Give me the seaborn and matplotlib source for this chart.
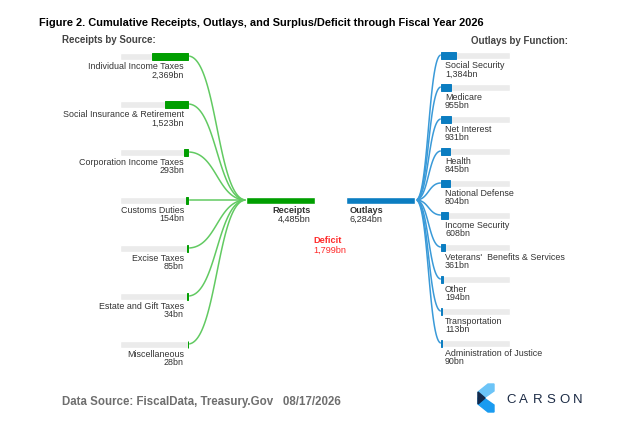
import matplotlib
matplotlib.use('Agg')
import matplotlib.pyplot as plt
from matplotlib.patches import Polygon
import numpy as np
import seaborn as sns

# Dados - Data (bn USD)
receipt_names = ['Individual Income Taxes', 'Social Insurance & Retirement', 'Corporation Income Taxes',
                 'Customs Duties', 'Excise Taxes', 'Estate and Gift Taxes', 'Miscellaneous']
receipt_values = [2369, 1523, 293, 154, 85, 34, 28]

outlay_names = ['Social Security', 'Medicare', 'Net Interest', 'Health', 'National Defense',
                'Income Security', "Veterans'  Benefits & Services", 'Other', 'Transportation',
                'Administration of Justice']
outlay_values = [1384, 955, 931, 845, 804, 608, 361, 194, 113, 90]

total_receipts = 4485
total_outlays = 6284
deficit = 1799

sns.set_theme(style='white')
plt.rcParams['font.family'] = ['Liberation Sans', 'DejaVu Sans']

GREEN = '#009e00'
GREEN_LINE = '#62ca62'
BLUE = '#0b7dc1'
BLUE_LINE = '#3a9ad8'
GRAY_BG = '#ebebeb'
TXT = '#333333'

fig = plt.figure(figsize=(6.24, 4.31), dpi=100)
ax = fig.add_axes([0, 0, 1, 1])
ax.set_xlim(0, 624)
ax.set_ylim(431, 0)
ax.axis('off')


def link(x0, y0, x1, y1, color):
    # curva bezier horizontal - horizontal bezier link
    t = np.linspace(0, 1, 60)
    xm = (x0 + x1) / 2
    xs = (1 - t) ** 3 * x0 + 3 * t * (1 - t) ** 2 * xm + 3 * t ** 2 * (1 - t) * xm + t ** 3 * x1
    ys = (1 - t) ** 3 * y0 + 3 * t * (1 - t) ** 2 * y0 + 3 * t ** 2 * (1 - t) * y1 + t ** 3 * y1
    ax.plot(xs, ys, color=color, lw=1.1, solid_capstyle='butt', zorder=1)


bar_h = 7
full_w = 68

# Receitas - Receipts (left)
left_end = 188
left_y = 57 + 48 * np.arange(len(receipt_values))
left_w = np.array(receipt_values) / total_receipts * full_w
ax.barh(left_y, full_w, left=left_end - full_w, height=bar_h, color=GRAY_BG, zorder=2)
ax.barh(left_y, left_w, left=left_end - left_w, height=bar_h, color=GREEN,
        edgecolor=GREEN, linewidth=0.7, zorder=3)
for y, name, v in zip(left_y, receipt_names, receipt_values):
    ax.text(184, y + 9.5, name, ha='right', va='center', fontsize=6.4, color=TXT)
    ax.text(184, y + 18, f'{v:,}bn', ha='right', va='center', fontsize=6.4, color=TXT)
    link(left_end, y, 246, 201, GREEN_LINE)

# Barras centrais - Central bars
ax.barh([201], [69], left=246, height=bar_h, color=GREEN, zorder=3)
ax.barh([201], [69], left=346, height=bar_h, color=BLUE, zorder=3)
ax.text(311, 210.5, 'Receipts', ha='right', va='center', fontsize=6.6, fontweight='bold', color=TXT)
ax.text(311, 219, f'{total_receipts:,}bn', ha='right', va='center', fontsize=6.6, color=TXT)
ax.text(350, 210.5, 'Outlays', ha='left', va='center', fontsize=6.6, fontweight='bold', color=TXT)
ax.text(350, 219, f'{total_outlays:,}bn', ha='left', va='center', fontsize=6.6, color=TXT)
ax.text(313, 241, 'Deficit', ha='left', va='center', fontsize=6.6, fontweight='bold', color='#ff2a2a')
ax.text(313, 250.5, f'{deficit:,}bn', ha='left', va='center', fontsize=6.6, color='#ff2a2a')

# Despesas - Outlays (right)
right_start = 441
right_y = 56 + 32 * np.arange(len(outlay_values))
right_w = np.array(outlay_values) / total_outlays * full_w
ax.barh(right_y, full_w + 1, left=right_start, height=bar_h, color=GRAY_BG, zorder=2)
ax.barh(right_y, right_w, left=right_start, height=bar_h, color=BLUE,
        edgecolor=BLUE, linewidth=0.7, zorder=3)
for y, name, v in zip(right_y, outlay_names, outlay_values):
    ax.text(445, y + 10, name, ha='left', va='center', fontsize=6.4, color=TXT)
    ax.text(445, y + 18, f'{v:,}bn', ha='left', va='center', fontsize=6.4, color=TXT)
    link(416, 201, right_start, y, BLUE_LINE)

# Titulos - Titles
ax.text(39, 23, 'Figure 2. Cumulative Receipts, Outlays, and Surplus/Deficit through Fiscal Year 2026',
        ha='left', va='center', fontsize=7.95, fontweight='bold', color='black')
ax.text(62, 40, 'Receipts by Source:', ha='left', va='center', fontsize=7, fontweight='bold', color='#444444')
ax.text(471, 41, 'Outlays by Function:', ha='left', va='center', fontsize=7, fontweight='bold', color='#444444')

# Rodape - Footer
ax.text(62, 402, 'Data Source: FiscalData, Treasury.Gov   08/17/2026', ha='left', va='center',
        fontsize=8.3, fontweight='bold', color='#6e6e6e')

# Logo
ax.add_patch(Polygon([(488, 385), (494, 385), (494, 392), (484, 399), (478, 399), (478, 393)],
                     closed=True, color='#6cc4f7', zorder=3))
ax.add_patch(Polygon([(478, 399), (484, 399), (494, 406), (494, 413), (488, 413), (478, 405)],
                     closed=True, color='#1a9bf0', zorder=3))
ax.add_patch(Polygon([(478, 393), (485, 399), (478, 405)], closed=True, color='#13294b', zorder=4))
for i, ch in enumerate('CARSON'):
    ax.text(506 + i * 13.4, 400, ch, ha='left', va='center', fontsize=9.5, color='#1c2b45')

plt.savefig('out.png', dpi=100)
